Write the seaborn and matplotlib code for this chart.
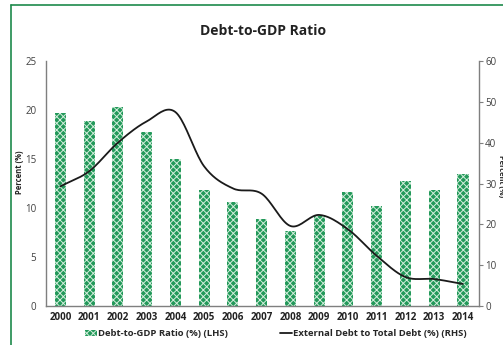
import numpy as np
import pandas as pd
import seaborn as sns
import matplotlib.pyplot as plt
from matplotlib.lines import Line2D
from matplotlib.patches import Patch

sns.set_style("white")
plt.rcParams["font.family"] = ["Open Sans", "DejaVu Sans"]
plt.rcParams["hatch.linewidth"] = 0.7

years = ["2000", "2001", "2002", "2003", "2004", "2005", "2006", "2007",
         "2008", "2009", "2010", "2011", "2012", "2013", "2014"]
debt_to_gdp = [19.7, 18.9, 20.3, 17.8, 15.0, 11.8, 10.6, 8.9,
               7.7, 9.2, 11.6, 10.2, 12.8, 11.8, 13.5]
external_share = [29.3, 33.0, 40.0, 45.2, 47.5, 34.2, 28.8, 27.5,
                  19.6, 22.3, 18.8, 12.3, 7.1, 6.6, 5.4]

left_ticks = [0, 5, 10, 15, 20, 25]
right_ticks = [0, 10, 20, 30, 40, 50, 60]

bar_green = "#23995a"
light_green = "#d4eedd"
axis_grey = "#7f7f7f"
text_grey = "#404040"


def smooth_curve(y, steps=20):
    """Catmull-Rom curve through the series, like a smoothed line chart."""
    y = np.asarray(y, dtype=float)
    x = np.arange(len(y), dtype=float)
    px = np.concatenate([[2 * x[0] - x[1]], x, [2 * x[-1] - x[-2]]])
    py = np.concatenate([[2 * y[0] - y[1]], y, [2 * y[-1] - y[-2]]])
    xs, ys = [], []
    for i in range(1, len(px) - 2):
        t = np.linspace(0, 1, steps, endpoint=False)
        for p, out in ((px, xs), (py, ys)):
            p0, p1, p2, p3 = p[i - 1], p[i], p[i + 1], p[i + 2]
            out.append(0.5 * ((2 * p1) + (-p0 + p2) * t
                              + (2 * p0 - 5 * p1 + 4 * p2 - p3) * t ** 2
                              + (-p0 + 3 * p1 - 3 * p2 + p3) * t ** 3))
    xs.append([x[-1]])
    ys.append([y[-1]])
    return np.concatenate(xs), np.concatenate(ys)


df = pd.DataFrame({"year": years, "ratio": debt_to_gdp})

fig = plt.figure(figsize=(5.03, 3.45), dpi=100)
ax = fig.add_axes([46 / 503, 1 - 306 / 345, (479 - 46) / 503, (306 - 61) / 345])

sns.barplot(data=df, x="year", y="ratio", ax=ax, color=bar_green,
            width=0.39, saturation=1)
for bar in ax.patches:
    bar.set_facecolor(bar_green)
    bar.set_edgecolor(light_green)
    bar.set_linewidth(0)
    bar.set_hatch("xxxxx")

ax.set_xlim(-0.5, 14.56)
ax.set_ylim(0, 25)
ax.set_yticks(left_ticks)
ax.set_yticklabels([str(t) for t in left_ticks])
ax.set_xlabel("")
ax.set_ylabel("")
ax.tick_params(axis="y", length=0, labelsize=7, colors=text_grey, pad=7)
ax.tick_params(axis="x", length=0, labelsize=7, pad=4)
for lbl in ax.get_xticklabels():
    lbl.set_fontweight("bold")
    lbl.set_color("#222222")

for side in ("top", "right"):
    ax.spines[side].set_visible(False)
for side in ("left", "bottom"):
    ax.spines[side].set_color(axis_grey)
    ax.spines[side].set_linewidth(1.0)

ax2 = ax.twinx()
sx, sy = smooth_curve(external_share)
ax2.plot(sx, sy, color="#1a1a1a", lw=1.3)
ax2.set_ylim(0, 60)
ax2.set_yticks(right_ticks)
ax2.set_yticklabels([str(t) for t in right_ticks])
ax2.tick_params(axis="y", length=3, width=0.8, colors=axis_grey,
                labelcolor=text_grey, labelsize=7, pad=1.5)
ax2.set_ylabel("")
for side in ("top", "left", "bottom"):
    ax2.spines[side].set_visible(False)
ax2.spines["right"].set_color(axis_grey)
ax2.spines["right"].set_linewidth(1.0)

# axis titles on both sides
fig.text(20 / 503, 1 - 172 / 345, "Percent (%)", rotation=90, ha="center",
         va="center", fontsize=5.5, fontweight="bold", color="#222222")
fig.text(500 / 503, 1 - 176 / 345, "Percent (%)", rotation=-90, ha="center",
         va="center", fontsize=5.3, fontweight="bold", color="#222222")

fig.text(0.522, 1 - 31 / 345, "Debt-to-GDP Ratio", ha="center", va="center",
         fontsize=10, fontweight="bold", color="#222222")

handles = [
    Patch(facecolor=bar_green, edgecolor=light_green, hatch="xxxxx", linewidth=0),
    Line2D([0], [0], color="#1a1a1a", lw=1.3),
]
fig.legend(handles, ["Debt-to-GDP Ratio (%) (LHS)",
                     "External Debt to Total Debt (%) (RHS)"],
           loc="center", bbox_to_anchor=(0.548, 1 - 334 / 345), ncol=2,
           frameon=False, prop={"weight": "bold", "size": 6.8},
           handlelength=1.3, handleheight=0.5, handletextpad=0.1,
           columnspacing=5.5)

# outer frame
fig.add_artist(Line2D([11 / 503, 11 / 503], [0, 1 - 5 / 345],
                      transform=fig.transFigure, color="#1e8a4c", lw=1.2))
fig.add_artist(Line2D([11 / 503, 1], [1 - 5 / 345, 1 - 5 / 345],
                      transform=fig.transFigure, color="#1e8a4c", lw=1.2))

fig.savefig("out.png", dpi=100)
